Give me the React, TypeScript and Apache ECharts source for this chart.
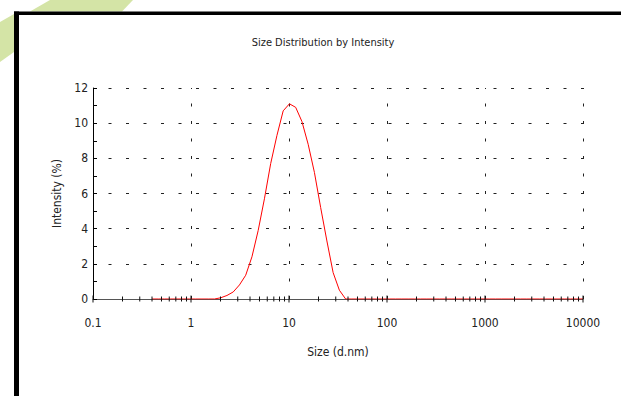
import React, { useEffect, useRef } from "react";
import * as echarts from "echarts";

// Size classes (d.nm)
const sizes = [
  0.4, 0.4632, 0.5365, 0.6213, 0.7195, 0.8332, 0.9649, 1.117, 1.294, 1.499,
  1.736, 2.01, 2.328, 2.696, 3.122, 3.615, 4.187, 4.849, 5.615, 6.503,
  7.531, 8.721, 10.1, 11.7, 13.54, 15.69, 18.17, 21.04, 24.36, 28.21,
  32.67, 37.84, 43.82, 50.75, 58.77, 68.06, 78.82, 91.28, 105.7, 122.4,
  141.8, 164.2, 190.1, 220.2, 255, 295.3, 342, 396.1, 458.7, 531.2,
  615.1, 712.4, 825, 955.4, 1106, 1281, 1484, 1718, 1990, 2305,
  2669, 3091, 3580, 4145, 4801, 5560, 6439, 7456, 8635, 10000,
];
// Intensity (%)
const intensity = [
  0, 0, 0, 0, 0, 0, 0, 0, 0, 0,
  0, 0.07, 0.2, 0.4, 0.8, 1.35, 2.4, 3.9, 5.7, 7.7,
  9.3, 10.7, 11.1, 10.9, 10.1, 8.8, 7.2, 5.2, 3.3, 1.5,
  0.5, 0, 0, 0, 0, 0, 0, 0, 0, 0,
  0, 0, 0, 0, 0, 0, 0, 0, 0, 0,
  0, 0, 0, 0, 0, 0, 0, 0, 0, 0,
  0, 0, 0, 0, 0, 0, 0, 0, 0, 0,
];
const xTickLabels = ["0.1", "1", "10", "100", "1000", "10000"];
const decades = [0.1, 1, 10, 100, 1000, 10000];
const minorMultipliers = [2, 3, 4, 5, 6, 7, 8, 9];
const titleText = "Size Distribution by Intensity";
const xName = "Size (d.nm)";
const yName = "Intensity (%)";

export default function App() {
  const ref = useRef<HTMLDivElement>(null);
  useEffect(() => {
    document.body.style.margin = "0";
    const chart = echarts.init(ref.current!, null, { renderer: "svg" });
    const font = '"Liberation Sans Narrow", "DejaVu Sans Condensed", "Arial Narrow", "Liberation Sans", sans-serif';
    const tickData = [
      ...decades.map((d) => [d, 1]),
      ...decades.slice(0, -1).flatMap((d) => minorMultipliers.map((m) => [d * m, 0])),
    ];
    const gridDash = { color: "#222", width: 1, type: [3, 14.5], dashOffset: 1.5 };
    chart.setOption({
      animation: false,
      backgroundColor: "#ffffff",
      grid: { left: 93, right: 38, top: 88, bottom: 97, containLabel: false },
      graphic: [
        { type: "polygon", shape: { points: [[50, 0], [133, 0], [122, 11.5], [30, 11.5]] }, style: { fill: "#d4e4a6" } },
        { type: "polygon", shape: { points: [[0, 22], [14, 14], [14, 52], [0, 62]] }, style: { fill: "#d4e4a6" } },
        { type: "rect", shape: { x: 14, y: 11.5, width: 607, height: 3.5 }, style: { fill: "#000" } },
        { type: "rect", shape: { x: 14, y: 11.5, width: 5, height: 385 }, style: { fill: "#000" } },
        {
          type: "text", x: 323, y: 42,
          style: { text: titleText, textAlign: "center", textVerticalAlign: "middle", fontFamily: font, fontSize: 11, fill: "#222" },
        },
      ],
      xAxis: {
        type: "log", logBase: 10, min: 0.1, max: 10000,
        axisLine: { show: true, lineStyle: { color: "#555", width: 1 } },
        axisTick: { show: false },
        minorTick: { show: false },
        axisLabel: {
          margin: 18, fontFamily: font, fontSize: 12, color: "#222",
          formatter: (v: number) => {
            const i = Math.round(Math.log10(v)) + 1;
            return xTickLabels[i] ?? "";
          },
        },
        splitLine: { show: true, showMinLine: false, lineStyle: gridDash },
        name: xName, nameLocation: "middle", nameGap: 47,
        nameTextStyle: { fontFamily: font, fontSize: 12, color: "#222" },
      },
      yAxis: {
        type: "value", min: 0, max: 12, interval: 2,
        axisLine: { show: true, lineStyle: { color: "#000", width: 1 } },
        axisTick: { show: true, inside: true, length: 4, lineStyle: { color: "#000" } },
        minorTick: { show: true, splitNumber: 2, length: 4, lineStyle: { color: "#000" } },
        axisLabel: { margin: 5, fontFamily: font, fontSize: 12, color: "#222" },
        splitLine: { show: true, showMinLine: false, lineStyle: gridDash },
        name: yName, nameLocation: "middle", nameGap: 24, nameRotate: 90,
        nameTextStyle: { fontFamily: font, fontSize: 12, color: "#222" },
      },
      series: [
        {
          type: "line",
          data: sizes.map((s, i) => [s, intensity[i]]),
          symbol: "none",
          lineStyle: { color: "#ff0000", width: 1 },
          z: 2,
          silent: true,
        },
        {
          type: "custom",
          data: tickData,
          clip: false,
          silent: true,
          z: 3,
          renderItem: (_params: any, api: any) => {
            const v = api.value(0);
            const major = api.value(1);
            const p = api.coord([v, 0]);
            const h = major ? 3.5 : 2.5;
            return {
              type: "line",
              shape: { x1: p[0], y1: p[1] - h, x2: p[0], y2: p[1] + h },
              style: { stroke: "#111", lineWidth: 1 },
            };
          },
        },
      ],
    });
    return () => chart.dispose();
  }, []);
  return <div ref={ref} style={{ width: 621, height: 396 }} />;
}
